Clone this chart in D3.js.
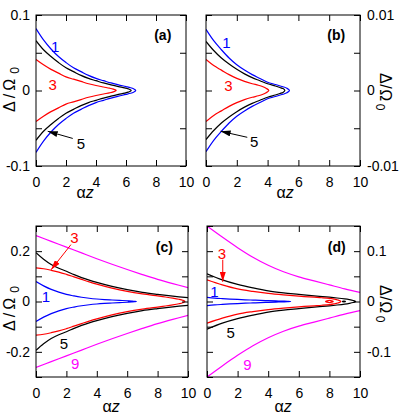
<!DOCTYPE html>
<html><head><meta charset="utf-8">
<script src="https://cdn.jsdelivr.net/npm/d3@7"></script>
<style>body{margin:0;background:#fff} svg text{font-family:"Liberation Sans",Arial,sans-serif}</style>
</head><body>
<svg id="chart" width="399" height="415"></svg>
<script>
// ---------- data ----------
const X_TICKS = [0, 2, 4, 6, 8, 10];
const X_TICK_LABELS = ["0", "2", "4", "6", "8", "10"];

const A_Y_TICKS = [-0.1, -0.05, 0, 0.05, 0.1];
const A_Y_LABELS = ["-0.1", "", "0", "", "0.1"];
const B_Y_TICKS = [-0.01, -0.005, 0, 0.005, 0.01];
const B_Y_LABELS = ["-0.01", "", "0", "", "0.01"];
const C_Y_TICKS = [-0.3, -0.2, -0.1, 0, 0.1, 0.2, 0.3];
const C_Y_LABELS = ["", "-0.2", "", "0", "", "0.2", ""];
const D_Y_TICKS = [-0.15, -0.1, -0.05, 0, 0.05, 0.1, 0.15];
const D_Y_LABELS = ["", "-0.1", "", "0", "", "0.1", ""];

// panel (a): upper branch (lower branch is its mirror), ending at the tip
const aBlueX  = [0, 0.5, 1, 1.5, 2, 2.5, 3, 3.5, 4, 4.5, 5, 5.5, 6, 6.3, 6.5, 6.65];
const aBlueY  = [0.082, 0.067, 0.055, 0.045, 0.037, 0.030, 0.025, 0.020, 0.016, 0.013, 0.010, 0.0075, 0.0052, 0.0037, 0.0022, 0];
const aBlackX = [0, 0.5, 1, 1.5, 2, 2.5, 3, 3.5, 4, 4.5, 5, 5.5, 5.9, 6.15, 6.35];
const aBlackY = [0.066, 0.054, 0.045, 0.037, 0.030, 0.025, 0.020, 0.016, 0.013, 0.010, 0.0075, 0.0052, 0.0035, 0.0022, 0];
const aRedX   = [0, 0.5, 1, 1.5, 2, 2.5, 3, 3.5, 4, 4.5, 4.9, 5.15, 5.35];
const aRedY   = [0.041, 0.034, 0.028, 0.023, 0.018, 0.015, 0.012, 0.009, 0.0066, 0.0046, 0.0031, 0.0018, 0];

// panel (b)
const bBlueX  = [0, 0.5, 1, 1.5, 2, 2.5, 3, 3.5, 4, 4.5, 5, 5.25, 5.42];
const bBlueY  = [0.0081, 0.0066, 0.0054, 0.0043, 0.0034, 0.0027, 0.0021, 0.0016, 0.0011, 0.0008, 0.0005, 0.0003, 0];
const bBlackX = [0, 0.5, 1, 1.5, 2, 2.5, 3, 3.5, 4, 4.5, 4.8, 5.0, 5.12];
const bBlackY = [0.0065, 0.0053, 0.0043, 0.0035, 0.0028, 0.0022, 0.0017, 0.0013, 0.0009, 0.0006, 0.0004, 0.00025, 0];
const bRedX   = [0, 0.5, 1, 1.5, 2, 2.5, 3, 3.4, 3.7, 3.9, 4.08];
const bRedY   = [0.0041, 0.0033, 0.0027, 0.0021, 0.0016, 0.0012, 0.0009, 0.0007, 0.0005, 0.0003, 0];

// panel (c)
const cMagentaX = [0, 1, 2, 3, 4, 5, 6, 7, 8, 9, 10];
const cMagentaY = [0.262, 0.239, 0.216, 0.193, 0.170, 0.148, 0.127, 0.107, 0.088, 0.071, 0.055];
const cBlackX = [0, 0.5, 1, 1.5, 2, 2.5, 3, 3.5, 4, 5, 6, 7, 8, 9, 10];
const cBlackY = [0.194, 0.168, 0.147, 0.132, 0.120, 0.107, 0.095, 0.085, 0.076, 0.060, 0.047, 0.036, 0.028, 0.021, 0.015];
const cRedX   = [0, 0.5, 1, 1.5, 2, 2.5, 3, 3.5, 4, 5, 6, 7, 8, 8.5, 9, 9.4, 9.65, 9.8];
const cRedY   = [0.134, 0.130, 0.124, 0.117, 0.108, 0.098, 0.088, 0.078, 0.069, 0.053, 0.040, 0.030, 0.022, 0.018, 0.0135, 0.009, 0.005, 0];
const cBlueX  = [0, 0.5, 1, 1.5, 2, 2.5, 3, 3.5, 4, 4.5, 5, 5.5, 6, 6.3, 6.5, 6.6];
const cBlueY  = [0.079, 0.062, 0.048, 0.037, 0.028, 0.022, 0.017, 0.013, 0.010, 0.0078, 0.006, 0.0045, 0.003, 0.002, 0.001, 0];

// panel (d)
const dMagentaX = [0, 1, 2, 3, 4, 5, 6, 7, 8, 9, 10];
const dMagentaY = [0.150, 0.128, 0.107, 0.088, 0.072, 0.059, 0.049, 0.041, 0.033, 0.025, 0.018];
const dBlackX = [0, 1, 2, 3, 4, 5, 6, 7, 8, 8.5, 9, 9.3, 9.55, 9.72];
const dBlackY = [0.055, 0.043, 0.034, 0.027, 0.021, 0.017, 0.014, 0.011, 0.0085, 0.007, 0.0052, 0.0037, 0.002, 0];
const dRedX   = [0, 1, 2, 3, 4, 5, 6, 7, 7.5, 8, 8.3, 8.55, 8.75];
const dRedY   = [0.043, 0.033, 0.025, 0.020, 0.016, 0.013, 0.0105, 0.0085, 0.0075, 0.0062, 0.0048, 0.003, 0];
const dBlueX  = [0, 0.5, 1, 1.5, 2, 2.5, 3, 3.5, 4, 4.5, 5, 5.25, 5.47];
const dBlueY  = [0.0081, 0.0068, 0.0058, 0.0049, 0.0041, 0.0034, 0.0028, 0.0022, 0.0017, 0.0012, 0.0007, 0.0004, 0];
const dRedIslandX = [7.75, 8.0, 8.25];
const dRedIslandY = [0, 0.0022, 0];
const dBlackIslandX = [8.85, 8.95, 9.05];
const dBlackIslandY = [0, 0.0008, 0];

const BLUE = "#0000ff", RED = "#ff0000", BLACK = "#000000", MAGENTA = "#ff00ff";

// ---------- drawing ----------
const svg = d3.select("#chart");
const defs = svg.append("defs");
["#000000", "#ff0000"].forEach((c, i) => {
  defs.append("marker").attr("id", "ah" + i).attr("viewBox", "0 0 10 6")
    .attr("refX", 10).attr("refY", 3).attr("markerWidth", 10).attr("markerHeight", 6)
    .attr("markerUnits", "userSpaceOnUse").attr("orient", "auto")
    .append("path").attr("d", "M0,0L10,3L0,6Z").attr("fill", c);
});

function panel(cfg) {
  const g = svg.append("g");
  const x = d3.scaleLinear().domain([0, 10]).range([cfg.x0, cfg.x1]);
  const y = d3.scaleLinear().domain(cfg.ydom).range([cfg.y1, cfg.y0]);
  const clipId = "clip" + cfg.id;
  defs.append("clipPath").attr("id", clipId).append("rect")
    .attr("x", cfg.x0).attr("y", cfg.y0).attr("width", cfg.x1 - cfg.x0).attr("height", cfg.y1 - cfg.y0);
  const plot = g.append("g").attr("clip-path", `url(#${clipId})`);
  const line = d3.line().x(d => x(d[0])).y(d => y(d[1])).curve(d3.curveCatmullRom.alpha(0.5));
  const closedLine = d3.line().x(d => x(d[0])).y(d => y(d[1])).curve(d3.curveCardinalClosed.tension(0));

  cfg.tongues.forEach(t => {
    const up = t.x.map((v, i) => [v, t.y[i]]);
    const low = t.x.slice(0, -1).map((v, i) => [v, -t.y[i]]).reverse();
    plot.append("path").attr("d", line(up.concat(low))).attr("fill", "none")
      .attr("stroke", t.c).attr("stroke-width", 1.2);
  });
  (cfg.open || []).forEach(t => {
    [1, -1].forEach(s => {
      plot.append("path").attr("d", line(t.x.map((v, i) => [v, s * t.y[i]]))).attr("fill", "none")
        .attr("stroke", t.c).attr("stroke-width", 1.2);
    });
  });
  (cfg.islands || []).forEach(t => {
    const pts = t.x.map((v, i) => [v, t.y[i]]).concat(t.x.slice(1, -1).map((v, i) => [v, -t.y[i + 1]]).reverse());
    plot.append("path").attr("d", closedLine(pts)).attr("fill", "none")
      .attr("stroke", t.c).attr("stroke-width", 1.2);
  });

  // axes with inward ticks, mirrored
  const fs = 14;
  g.append("g").attr("transform", `translate(0,${cfg.y1})`)
    .call(d3.axisBottom(x).tickValues(X_TICKS).tickFormat((d, i) => X_TICK_LABELS[i]).tickSize(-6).tickPadding(11));
  g.append("g").attr("transform", `translate(0,${cfg.y0})`)
    .call(d3.axisTop(x).tickValues(X_TICKS).tickFormat("").tickSize(-6));
  g.append("g").attr("transform", `translate(${cfg.x0},0)`)
    .call(d3.axisLeft(y).tickValues(cfg.yticks).tickFormat((d, i) => cfg.side === "left" ? cfg.ylabels[i] : "").tickSize(-6).tickPadding(6));
  g.append("g").attr("transform", `translate(${cfg.x1},0)`)
    .call(d3.axisRight(y).tickValues(cfg.yticks).tickFormat((d, i) => cfg.side === "right" ? cfg.ylabels[i] : "").tickSize(-6).tickPadding(7));
  g.selectAll(".domain").remove();
  g.selectAll(".tick line").attr("stroke", "#000").attr("stroke-width", 1);
  g.selectAll(".tick text").attr("font-size", fs).attr("font-family", '"Liberation Sans",Arial,sans-serif').attr("fill", "#000");
  g.append("rect").attr("x", cfg.x0).attr("y", cfg.y0).attr("width", cfg.x1 - cfg.x0).attr("height", cfg.y1 - cfg.y0)
    .attr("fill", "none").attr("stroke", "#000").attr("stroke-width", 1);

  // panel tag
  g.append("text").attr("x", x(cfg.tag[1])).attr("y", y(cfg.tag[2])).attr("text-anchor", "middle")
    .attr("dominant-baseline", "central").attr("font-size", 14).attr("font-weight", "bold").attr("fill", "#000").text(cfg.tag[0]);
  // curve labels
  cfg.labels.forEach(l => {
    g.append("text").attr("x", x(l[1])).attr("y", y(l[2])).attr("text-anchor", "middle")
      .attr("dominant-baseline", "central").attr("font-size", 15).style("fill", l[3]).text(l[0]);
  });
  (cfg.arrows || []).forEach(a => {
    g.append("line").attr("x1", x(a[0])).attr("y1", y(a[1])).attr("x2", x(a[2])).attr("y2", y(a[3]))
      .attr("stroke", a[4]).attr("stroke-width", 1).attr("marker-end", a[4] === RED ? "url(#ah1)" : "url(#ah0)");
  });

  // axis titles
  const yt = g.append("text").attr("font-size", 16).attr("fill", "#000")
    .attr("transform", `translate(${cfg.ylab[0]},${cfg.ylab[1]}) rotate(${cfg.side === "left" ? -90 : 90})`)
    .attr("text-anchor", "middle").attr("letter-spacing", cfg.ylab[2]);
  yt.append("tspan").text("Δ/Ω");
  yt.append("tspan").attr("font-size", 12).attr("dx", 2).attr("dy", 4).text("0");
  const xt = g.append("text").attr("x", cfg.xlab[0]).attr("y", cfg.xlab[1]).attr("text-anchor", "middle").attr("font-size", 16).attr("fill", "#000");
  xt.append("tspan").text("α");
  xt.append("tspan").attr("font-style", "italic").text("z");
}

panel({ id: "a", x0: 36, x1: 186, y0: 15, y1: 166, ydom: [-0.1, 0.1], yticks: A_Y_TICKS, ylabels: A_Y_LABELS, side: "left",
  tongues: [{ x: aBlueX, y: aBlueY, c: BLUE }, { x: aBlackX, y: aBlackY, c: BLACK }, { x: aRedX, y: aRedY, c: RED }],
  tag: ["(a)", 8.45, 0.073],
  labels: [["1", 1.27, 0.058, BLUE], ["3", 1.11, 0.0076, RED], ["5", 3.0, -0.07, BLACK]],
  arrows: [[2.45, -0.0635, 0.78, -0.054, BLACK]],
  ylab: [15, 88, 3], xlab: [85, 198] });

panel({ id: "b", x0: 206, x1: 360, y0: 15, y1: 166, ydom: [-0.01, 0.01], yticks: B_Y_TICKS, ylabels: B_Y_LABELS, side: "right",
  tongues: [{ x: bBlueX, y: bBlueY, c: BLUE }, { x: bBlackX, y: bBlackY, c: BLACK }, { x: bRedX, y: bRedY, c: RED }],
  tag: ["(b)", 8.46, 0.0073],
  labels: [["1", 1.32, 0.0063, BLUE], ["3", 1.45, 0.0006, RED], ["5", 3.12, -0.0068, BLACK]],
  arrows: [[2.68, -0.0062, 0.95, -0.0054, BLACK]],
  ylab: [380, 92, 0.5], xlab: [285, 198] });

panel({ id: "c", x0: 36, x1: 188, y0: 226, y1: 377, ydom: [-0.3, 0.3], yticks: C_Y_TICKS, ylabels: C_Y_LABELS, side: "left",
  tongues: [{ x: cBlueX, y: cBlueY, c: BLUE }, { x: cRedX, y: cRedY, c: RED }],
  open: [{ x: cMagentaX, y: cMagentaY, c: MAGENTA }, { x: cBlackX, y: cBlackY, c: BLACK }],
  tag: ["(c)", 8.44, 0.217],
  labels: [["3", 2.52, 0.253, RED], ["1", 0.66, 0.019, BLUE], ["5", 1.84, -0.165, BLACK], ["9", 2.57, -0.245, MAGENTA]],
  arrows: [[2.3, 0.226, 0.99, 0.126, RED]],
  ylab: [15, 307, 3], xlab: [111, 412] });

panel({ id: "d", x0: 207, x1: 360, y0: 226, y1: 377, ydom: [-0.15, 0.15], yticks: D_Y_TICKS, ylabels: D_Y_LABELS, side: "right",
  tongues: [{ x: dBlueX, y: dBlueY, c: BLUE }, { x: dBlackX, y: dBlackY, c: BLACK }, { x: dRedX, y: dRedY, c: RED }],
  open: [{ x: dMagentaX, y: dMagentaY, c: MAGENTA }],
  islands: [{ x: dRedIslandX, y: dRedIslandY, c: RED }, { x: dBlackIslandX, y: dBlackIslandY, c: BLACK }],
  tag: ["(d)", 8.48, 0.108],
  labels: [["3", 0.98, 0.096, RED], ["1", 0.48, 0.0196, BLUE], ["5", 1.55, -0.062, BLACK], ["9", 2.64, -0.125, MAGENTA]],
  arrows: [[1.03, 0.083, 1.03, 0.039, RED]],
  ylab: [380, 304, 0.5], xlab: [283, 412] });
</script>
</body></html>
